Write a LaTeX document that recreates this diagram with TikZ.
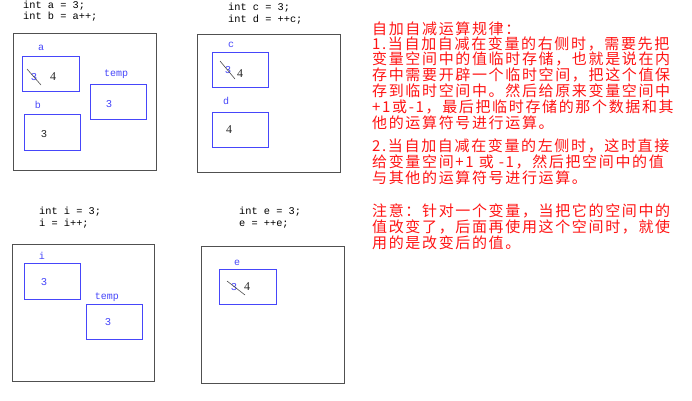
\documentclass[tikz,border=0pt]{standalone}
\usepackage{fontspec}
\setmainfont{Liberation Serif}
\setmonofont{Liberation Mono}
\newfontfamily\cjk[LetterSpace=11]{Noto Sans CJK SC}
\definecolor{boxblue}{RGB}{70,70,250}
\definecolor{outergray}{RGB}{80,80,80}
\definecolor{rulered}{RGB}{255,20,20}
\begin{document}
\begin{tikzpicture}[x=1pt,y=-1pt,
  outer/.style={draw=outergray, line width=0.9pt, anchor=north west, inner sep=0},
  var/.style={draw=boxblue, line width=0.9pt, anchor=north west, inner sep=0},
  code/.style={font=\ttfamily\fontsize{10.3}{11}\selectfont, anchor=west, inner sep=0},
  lbl/.style={font=\ttfamily\fontsize{10}{11}\selectfont, text=boxblue, inner sep=0},
  bval/.style={font=\ttfamily\fontsize{10.5}{11}\selectfont, text=boxblue, inner sep=0},
  kval/.style={font=\fontsize{12}{12}\selectfont, text=black!85, inner sep=0},
  strike/.style={draw=black!70, line width=0.6pt},
  rule/.style={font=\cjk\fontsize{15}{15}\selectfont, text=rulered, anchor=west, inner sep=0}
]
\useasboundingbox (0,0) rectangle (692,400);
\fill[white] (0,0) rectangle (692,400);

% ---------- panel 1 ----------
\node[code] (c1a) at (23,6) {int a = 3;};
\node[code] (c1b) at (23,17) {int b = a++;};
\node[outer, minimum width=143, minimum height=137] (o1) at (13,33) {};
\node[lbl] (la) at (41,48) {a};
\node[var, minimum width=57, minimum height=35] (ba) at (22,56) {};
\node[bval] (va3) at (34,77) {3};
\node[kval] (va4) at (53,77) {4};
\draw[strike] (27,69) -- (41,85);
\node[lbl] (lb) at (38,105) {b};
\node[var, minimum width=56, minimum height=36] (bb) at (24,114) {};
\node[kval, font=\ttfamily\fontsize{10.5}{11}\selectfont] (vb3) at (44,134) {3};
\node[lbl] (lt1) at (116,74) {temp};
\node[var, minimum width=56, minimum height=35] (bt1) at (90,84) {};
\node[bval] (vt1) at (109,104) {3};

% ---------- panel 2 ----------
\node[code] (c2a) at (228,8) {int c = 3;};
\node[code] (c2b) at (228,20) {int d = ++c;};
\node[outer, minimum width=143, minimum height=138] (o2) at (197,34) {};
\node[lbl] (lc) at (231,45) {c};
\node[var, minimum width=56, minimum height=35] (bc) at (212,52) {};
\node[bval] (vc3) at (228,70) {3};
\node[kval] (vc4) at (240,74) {4};
\draw[strike] (220,61) -- (235,79);
\node[lbl] (ld) at (226,101) {d};
\node[var, minimum width=56, minimum height=35] (bd) at (212,112) {};
\node[kval] (vd4) at (229,130) {4};

% ---------- panel 3 ----------
\node[code] (c3a) at (39,212) {int i = 3;};
\node[code] (c3b) at (39,224) {i = i++;};
\node[outer, minimum width=142, minimum height=137] (o3) at (12,244) {};
\node[lbl] (li) at (42,256) {i};
\node[var, minimum width=56, minimum height=36] (bi) at (24,263) {};
\node[bval] (vi3) at (44,282) {3};
\node[lbl] (lt3) at (107,297) {temp};
\node[var, minimum width=56, minimum height=35] (bt3) at (86,304) {};
\node[bval] (vt3) at (108,322) {3};

% ---------- panel 4 ----------
\node[code] (c4a) at (239,212) {int e = 3;};
\node[code] (c4b) at (239,224) {e = ++e;};
\node[outer, minimum width=143, minimum height=137] (o4) at (201,246) {};
\node[lbl] (le) at (237,263) {e};
\node[var, minimum width=57, minimum height=35] (be) at (219,269) {};
\node[bval] (ve3) at (234,287) {3};
\node[kval] (ve4) at (247,287) {4};
\draw[strike] (227,281) -- (245,295);

% ---------- rules text ----------
\node[rule] (r1)  at (372,29)  {自加自减运算规律：};
\node[rule] (r2)  at (372,44)  {1.当自加自减在变量的右侧时，需要先把};
\node[rule] (r3)  at (372,59)  {变量空间中的值临时存储，也就是说在内};
\node[rule] (r4)  at (372,75)  {存中需要开辟一个临时空间，把这个值保};
\node[rule] (r5)  at (372,91)  {存到临时空间中。然后给原来变量空间中};
\node[rule] (r6)  at (372,107) {+1或-1，最后把临时存储的那个数据和其};
\node[rule] (r7)  at (372,123) {他的运算符号进行运算。};
\node[rule] (r8)  at (372,146) {2.当自加自减在变量的左侧时，这时直接};
\node[rule] (r9)  at (372,162) {给变量空间+1 或 -1，然后把空间中的值};
\node[rule] (r10) at (372,178) {与其他的运算符号进行运算。};
\node[rule] (r11) at (372,211) {注意：针对一个变量，当把它的空间中的};
\node[rule] (r12) at (372,227) {值改变了，后面再使用这个空间时，就使};
\node[rule] (r13) at (372,243) {用的是改变后的值。};
\end{tikzpicture}
\end{document}
